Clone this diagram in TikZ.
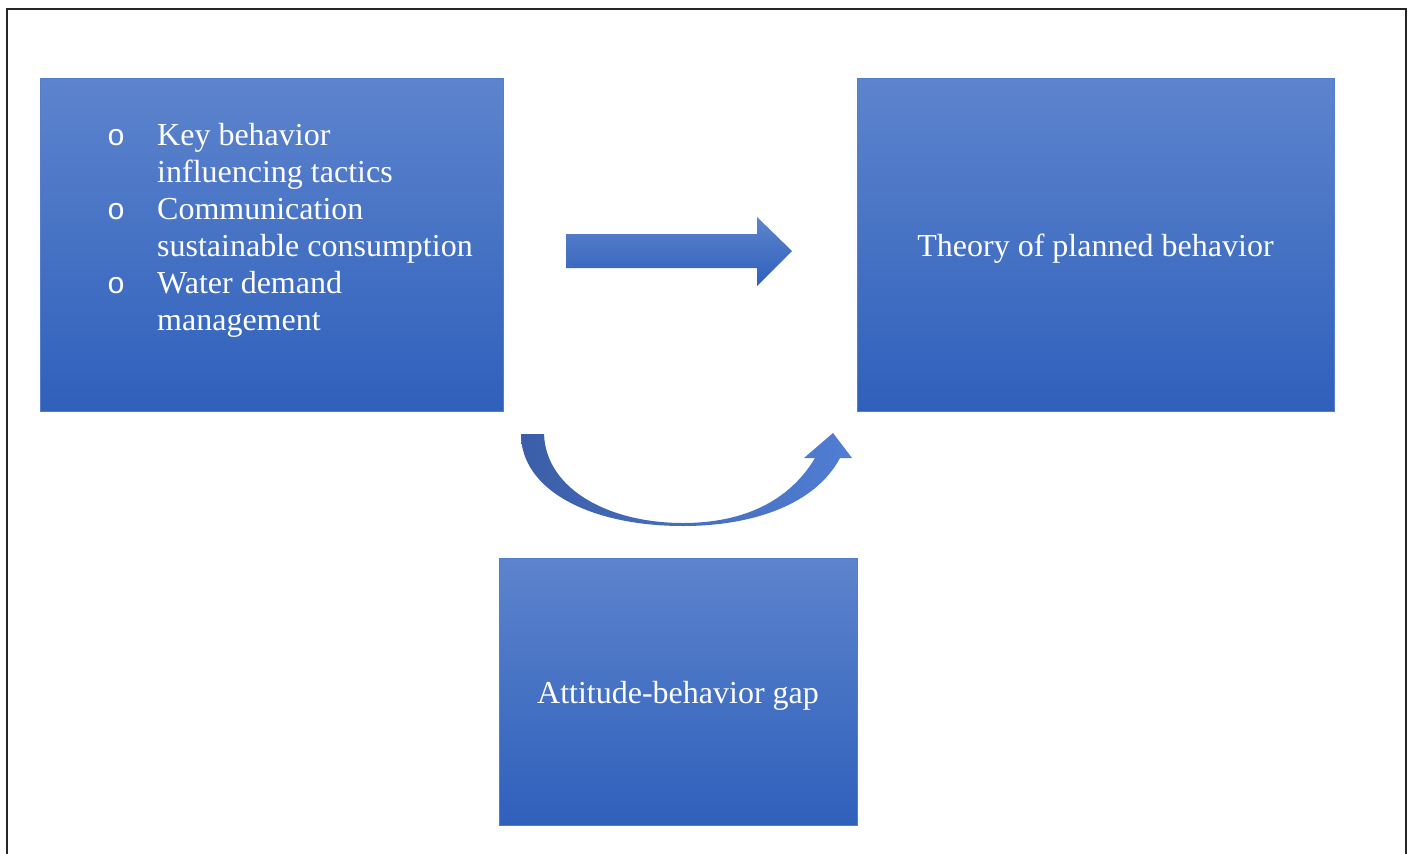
\documentclass[tikz,border=0pt]{standalone}
\usepackage{fontspec}
\setmainfont{Liberation Serif}
\newfontfamily\bulletfont{Liberation Mono}
\usetikzlibrary{positioning}

\definecolor{boxtop}{RGB}{93,132,205}
\definecolor{boxbot}{RGB}{47,96,187}
\definecolor{boxedge}{RGB}{84,124,204}
\definecolor{curvedark}{RGB}{60,94,168}
\definecolor{curvelight}{RGB}{80,126,212}

\begin{document}
\begin{tikzpicture}[
  x=1pt, y=-1pt,
  font=\fontsize{32}{37}\selectfont,
  box/.style={draw=boxedge, line width=0.8pt, top color=boxtop, bottom color=boxbot, text=white, inner sep=0pt, text height=24pt, text depth=0pt},
  blockarrow/.style={top color=boxtop, bottom color=boxbot},
  curvearrow/.style={left color=curvedark, right color=curvelight},
  frame/.style={line width=1.5pt, draw=black!85}
]
\useasboundingbox (0,0) rectangle (1411,854);

% page frame, open at the bottom
\draw[frame] (7,854) -- (7,9) -- (1406,9) -- (1406,854);

\node[box, minimum width=463pt, minimum height=333pt] (tactics) at (271.5,244.5) {};
\node[box, minimum width=477pt, minimum height=333pt] (theory) at (1095.5,244.5) {Theory of planned behavior};
\node[box, minimum width=358pt, minimum height=267pt] (gap) at (678,691.5) {Attitude-behavior gap};

\node[anchor=north west, text=white, inner sep=0pt] (tactics-list) at (107,119) {%
  \begin{tabular}{@{}p{50pt}@{}l@{}}
  {\bulletfont\fontsize{30}{37}\selectfont o} & Key behavior\\
                  & influencing tactics\\
  {\bulletfont\fontsize{30}{37}\selectfont o} & Communication\\
                  & sustainable consumption\\
  {\bulletfont\fontsize{30}{37}\selectfont o} & Water demand\\
                  & management
  \end{tabular}};

% block arrow between the top boxes
\path[blockarrow] (566,234) -- (757,234) -- (757,217) -- (792,251)
  -- (757,286) -- (757,268) -- (566,268) -- cycle;

% curved arrow under the gap
\path[curvearrow] (521,434) .. controls (521,490) and (590,526) .. (683,526)
  .. controls (752,526) and (815,505) .. (840,458)
  -- (852,458) -- (833,433) -- (804,458) -- (815,458)
  .. controls (790,500) and (745,523) .. (683,523)
  .. controls (610,523) and (546,490) .. (544,434) -- cycle;

\end{tikzpicture}
\end{document}
